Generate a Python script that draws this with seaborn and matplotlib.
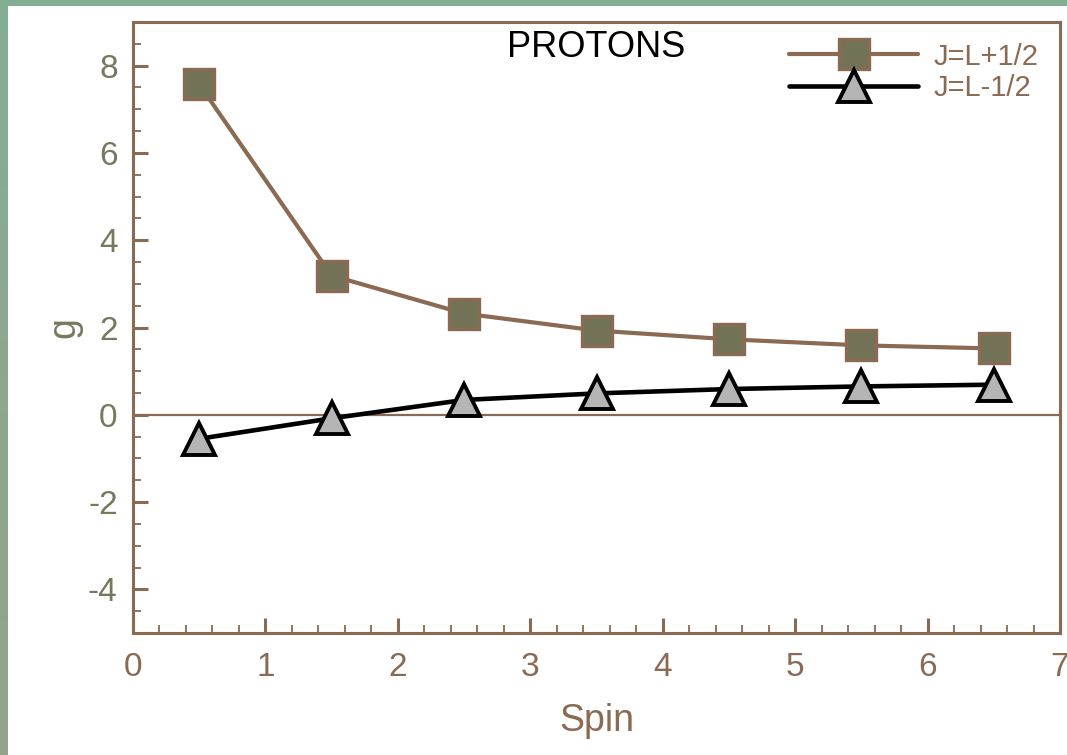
import numpy as np
import pandas as pd
import seaborn as sns
import matplotlib
matplotlib.use("Agg")
import matplotlib.pyplot as plt
from matplotlib.patches import Rectangle
from matplotlib.ticker import MultipleLocator

# g-factors of single-particle proton states versus spin
spin = [0.5, 1.5, 2.5, 3.5, 4.5, 5.5, 6.5]
g_plus = [7.57, 3.19, 2.32, 1.93, 1.73, 1.59, 1.52]     # J = L + 1/2
g_minus = [-0.55, -0.08, 0.34, 0.49, 0.59, 0.65, 0.69]  # J = L - 1/2
labels = ["J=L+1/2", "J=L-1/2"]
x_ticks = [0, 1, 2, 3, 4, 5, 6, 7]
y_ticks = [-4, -2, 0, 2, 4, 6, 8]

BROWN = "#8a6a53"
OLIVE = "#78785e"
SQUARE_FILL = "#727256"
TRI_FILL = "#b5b5b5"

sns.set_style("white")
plt.rcParams["font.family"] = ["Liberation Sans", "DejaVu Sans"]
plt.rcParams["axes.unicode_minus"] = False

fig = plt.figure(figsize=(10.67, 7.55), dpi=100)
fig.patch.set_facecolor("white")

# green frame along the top and left edges
fig.add_artist(Rectangle((0, 1 - 6 / 755), 1, 6 / 755, transform=fig.transFigure,
                         color="#84ae94", lw=0, zorder=0))
n = 40
c0 = np.array([0x84, 0xae, 0x94]) / 255
c1 = np.array([0x93, 0xa2, 0x8a]) / 255
for i in range(n):
    t = i / (n - 1)
    fig.add_artist(Rectangle((0, 1 - (i + 1) / n), 8 / 1067, 1 / n + 0.002,
                             transform=fig.transFigure, color=c0 * (1 - t) + c1 * t,
                             lw=0, zorder=0))

ax = fig.add_axes([133 / 1067, 1 - 633 / 755, (1060 - 133) / 1067, (633 - 22) / 755])

df = pd.DataFrame({"spin": spin, "plus": g_plus, "minus": g_minus})

ax.axhline(0, color=BROWN, linewidth=1.6, zorder=1)

sns.lineplot(data=df, x="spin", y="plus", ax=ax, color=BROWN, linewidth=3.0,
             marker="s", markersize=22, markerfacecolor=SQUARE_FILL,
             markeredgecolor=BROWN, markeredgewidth=2.4, label=labels[0], zorder=3)
sns.lineplot(data=df, x="spin", y="minus", ax=ax, color="black", linewidth=3.3,
             marker="^", markersize=23, markerfacecolor=TRI_FILL,
             markeredgecolor="black", markeredgewidth=2.8, label=labels[1], zorder=3)

ax.set_xlim(0, 7)
ax.set_ylim(-5, 9)
ax.set_xticks(x_ticks)
ax.set_yticks(y_ticks)
ax.xaxis.set_minor_locator(MultipleLocator(0.2))
ax.yaxis.set_minor_locator(MultipleLocator(0.5))

for s in ax.spines.values():
    s.set_color(BROWN)
    s.set_linewidth(2.2)

ax.tick_params(axis="both", which="major", direction="in", length=11, width=2.2,
               color=BROWN, labelsize=24, top=False, right=False)
ax.tick_params(axis="both", which="minor", direction="in", length=6, width=1.3,
               color=BROWN, top=False, right=False)
ax.tick_params(axis="y", which="major", pad=11, labelcolor=OLIVE)
ax.tick_params(axis="x", which="major", pad=14, labelcolor=BROWN)
ax.tick_params(axis="both", which="both", bottom=True, left=True)

ax.set_xlabel("Spin", fontsize=27, color=BROWN, labelpad=14)
ax.set_ylabel("g", fontsize=27, color=OLIVE, labelpad=4)

ax.text(0.5, 0.958, "PROTONS", transform=ax.transAxes, ha="center", va="center",
        fontsize=26, color="black")

leg = ax.legend(loc="upper right", bbox_to_anchor=(0.996, 0.995), frameon=False,
                fontsize=21, handlelength=4.4, handletextpad=0.55, labelspacing=0.12,
                numpoints=1, borderaxespad=0.2)
for t in leg.get_texts():
    t.set_color(BROWN)

fig.savefig("out.png", dpi=100, facecolor="white")
